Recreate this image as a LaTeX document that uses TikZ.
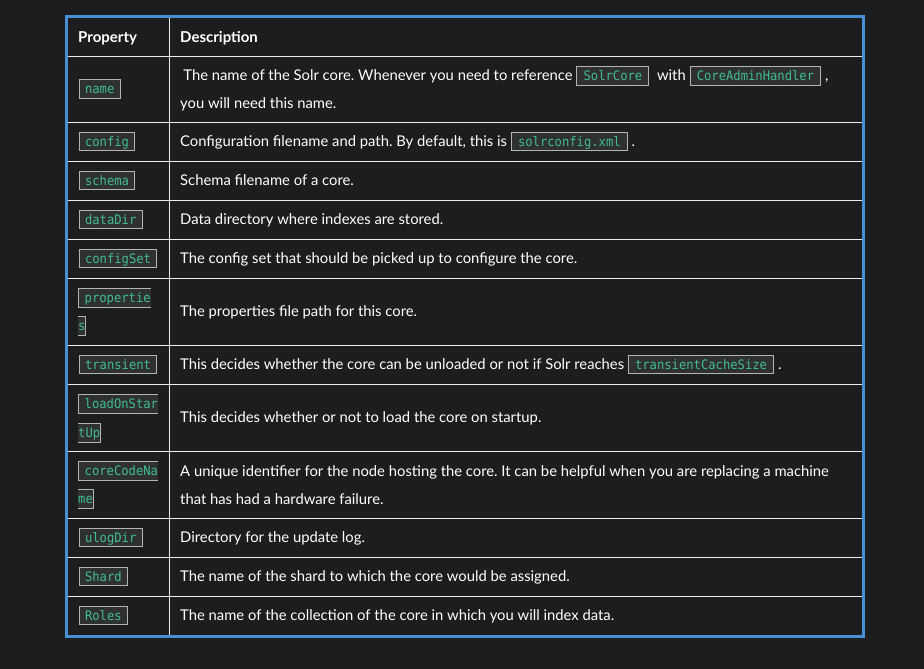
\documentclass[tikz,border=0pt]{standalone}
\usepackage{fontspec}
\setmainfont{Lato}
\newfontfamily\monofam{DejaVu Sans Mono}[FakeStretch=0.93]
\frenchspacing
\definecolor{pagebg}{HTML}{1C1D1F}
\definecolor{frameblue}{HTML}{4A8ED8}
\definecolor{gridline}{HTML}{EEEEEE}
\definecolor{cbg}{HTML}{2E3032}
\definecolor{cborder}{HTML}{B4B4B4}
\definecolor{cfg}{HTML}{42BC91}
\newcommand\mono{\monofam\fontsize{13.1}{15}\selectfont}
\newcommand\cbox[1]{{\setlength\fboxsep{0pt}\setlength\fboxrule{1pt}\fcolorbox{cborder}{cbg}{\rule[-4.2pt]{0pt}{17.5pt}\hspace{6.2pt}\textcolor{cfg}{\mono #1}\hspace{6.2pt}}}}
\tikzset{
  body/.style={anchor=base west, inner sep=0pt, text=white, font=\fontsize{14.8}{18}\selectfont},
  head/.style={body, font=\fontsize{15}{18}\selectfont\bfseries},
  codebox/.style={anchor=base west, draw=cborder, line width=1pt, fill=cbg, text=cfg, font=\mono,
    inner xsep=5.7pt, inner ysep=0pt, text height=13.8pt, text depth=4.7pt},
  codefrag/.style={anchor=base west, fill=cbg, text=cfg, font=\mono,
    inner sep=0pt, text height=13.8pt, text depth=4.7pt},
  fragline/.style={draw=cborder, line width=1pt},
  grid/.style={draw=gridline, line width=1pt},
}
\begin{document}
\begin{tikzpicture}[x=1pt,y=-1pt]
\useasboundingbox (0,0) rectangle (924,669);
\fill[pagebg] (0,0) rectangle (924,669);
% grid
\foreach \yy in {56.5,122.5,161.5,200.5,239.5,278.5,345.5,384.5,451.5,518.5,557.5,596.5}
  \draw[grid] (66.5,\yy) -- (863.5,\yy);
\draw[grid] (169.5,17) -- (169.5,636);
\draw[frameblue, line width=3pt] (66.5,17) rectangle (863.5,636);
% header
\node[head] (h1) at (78,42.5) {Property};
\node[head] (h2) at (180,42.5) {Description};
% name
\node[codebox] (c1) at (78.8,93.5) {name};
\node[body] (d1a) at (180,80.5) {\hspace{3.2pt}The name of the Solr core. Whenever you need to reference \cbox{SolrCore}\ \ with \cbox{CoreAdminHandler} ,};
\node[body] (d1b) at (180,108.8) {you will need this name.};
% config
\node[codebox] (c2) at (78.8,146) {config};
\node[body] (d2) at (180,146) {Configuration filename and path. By default, this is \cbox{solrconfig.xml} .};
% schema
\node[codebox] (c3) at (78.8,185) {schema};
\node[body] (d3) at (180,185) {Schema filename of a core.};
% dataDir
\node[codebox] (c4) at (78.8,224) {dataDir};
\node[body] (d4) at (180,224) {Data directory where indexes are stored.};
% configSet
\node[codebox] (c5) at (78.8,263) {configSet};
\node[body] (d5) at (180,263) {The config set that should be picked up to configure the core.};
% properties
\node[codefrag] (c6a) at (78.8,302.5) {\hspace{5.7pt}propertie};
\draw[fragline] (c6a.north east) -- (c6a.north west) -- (c6a.south west) -- (c6a.south east);
\node[codefrag] (c6b) at (78,330.5) {s\hspace{5.7pt}};
\draw[fragline] (c6b.north west) -- (c6b.north east) -- (c6b.south east) -- (c6b.south west);
\node[body] (d6) at (180,316) {The properties file path for this core.};
% transient
\node[codebox] (c7) at (78.8,369) {transient};
\node[body] (d7) at (180,369) {This decides whether the core can be unloaded or not if Solr reaches \cbox{transientCacheSize} .};
% loadOnStartUp
\node[codefrag] (c8a) at (78.8,408.8) {\hspace{5.7pt}loadOnStar};
\draw[fragline] (c8a.north east) -- (c8a.north west) -- (c8a.south west) -- (c8a.south east);
\node[codefrag] (c8b) at (78,437.2) {tUp\hspace{5.7pt}};
\draw[fragline] (c8b.north west) -- (c8b.north east) -- (c8b.south east) -- (c8b.south west);
\node[body] (d8) at (180,422) {This decides whether or not to load the core on startup.};
% coreCodeName
\node[codefrag] (c9a) at (78.8,475.7) {\hspace{5.7pt}coreCodeNa};
\draw[fragline] (c9a.north east) -- (c9a.north west) -- (c9a.south west) -- (c9a.south east);
\node[codefrag] (c9b) at (78,503.8) {me\hspace{5.7pt}};
\draw[fragline] (c9b.north west) -- (c9b.north east) -- (c9b.south east) -- (c9b.south west);
\node[body] (d9a) at (180,476.5) {A unique identifier for the node hosting the core. It can be helpful when you are replacing a machine};
\node[body] (d9b) at (180,504) {that has had a hardware failure.};
% ulogDir
\node[codebox] (c10) at (78.8,542) {ulogDir};
\node[body] (d10) at (180,542) {Directory for the update log.};
% Shard
\node[codebox] (c11) at (78.8,581) {Shard};
\node[body] (d11) at (180,581) {The name of the shard to which the core would be assigned.};
% Roles
\node[codebox] (c12) at (78.8,620) {Roles};
\node[body] (d12) at (180,620) {The name of the collection of the core in which you will index data.};
\end{tikzpicture}
\end{document}
